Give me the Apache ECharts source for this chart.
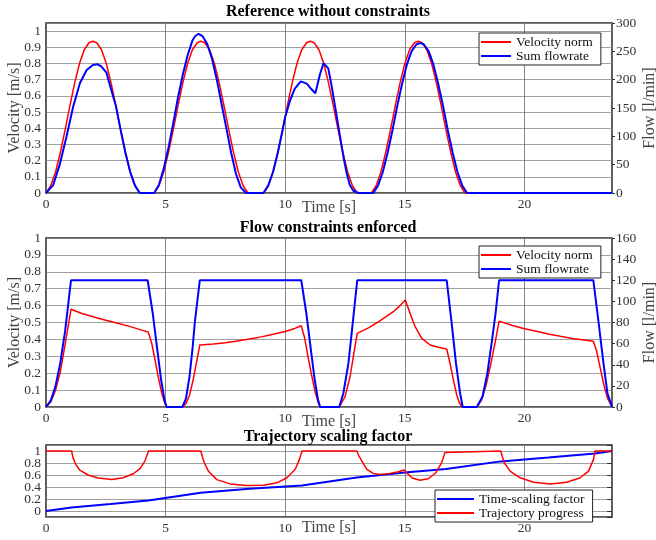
<!DOCTYPE html>
<html>
<head>
<meta charset="utf-8">
<script src="https://cdn.jsdelivr.net/npm/echarts@6/dist/echarts.min.js"></script>
</head>
<body style="margin:0;background:#fff">
<div id="chart" style="width:656px;height:540px"></div>
<script>
// ---- top: reference without constraints ----
var topVelT = [0,0.2,0.4,0.6,0.8,1.0,1.2,1.4,1.6,1.8,1.96,2.12,2.32,2.52,2.72,2.92,3.12,3.32,3.52,3.72,3.92,
    4.52,4.72,4.92,5.12,5.32,5.52,5.72,5.92,6.12,6.32,6.48,6.64,6.84,7.04,7.24,7.44,7.64,7.84,8.04,8.24,8.44,
    9.09,9.29,9.49,9.69,9.89,10.09,10.29,10.49,10.69,10.89,11.05,11.21,11.41,11.61,11.81,12.01,12.21,12.41,12.61,12.81,13.01,
    13.6,13.8,14.0,14.2,14.4,14.6,14.8,15.0,15.2,15.4,15.56,15.72,15.92,16.12,16.32,16.52,16.72,16.92,17.12,17.32,17.52,
    23.66];
var topVel = [0,0.045,0.13,0.25,0.39,0.54,0.68,0.8,0.885,0.928,0.937,0.928,0.885,0.8,0.68,0.54,0.39,0.25,0.13,0.045,0,
    0,0.045,0.13,0.25,0.39,0.54,0.68,0.8,0.885,0.928,0.937,0.928,0.885,0.8,0.68,0.54,0.39,0.25,0.13,0.045,0,
    0,0.045,0.13,0.25,0.39,0.54,0.68,0.8,0.885,0.928,0.937,0.928,0.885,0.8,0.68,0.54,0.39,0.25,0.13,0.045,0,
    0,0.045,0.13,0.25,0.39,0.54,0.68,0.8,0.885,0.928,0.937,0.928,0.885,0.8,0.68,0.54,0.39,0.25,0.13,0.045,0,
    0];
var topFlowT = [0,0.3,0.58,0.86,1.14,1.42,1.7,1.96,2.16,2.32,2.52,2.72,2.92,3.12,3.32,3.52,3.72,3.92,
    4.52,4.72,4.92,5.12,5.32,5.52,5.72,5.92,6.12,6.24,6.38,6.54,6.74,6.94,7.14,7.34,7.54,7.74,7.94,8.14,8.36,
    9.09,9.29,9.49,9.69,9.89,10.0,10.2,10.4,10.65,10.9,11.1,11.26,11.45,11.6,11.68,11.8,11.94,12.1,12.29,12.45,12.57,12.7,12.85,13.06,
    13.68,13.88,14.08,14.28,14.48,14.68,14.88,15.08,15.28,15.48,15.64,15.8,16.0,16.2,16.4,16.6,16.8,17.0,17.2,17.4,17.6,
    23.66];
var topFlow = [0,14,51,100,153,194,217,226,227,223,213,183,154,111,71,37,13,0,
    0,14,43,80,123,169,209,243,269,277,281,277,263,237,200,157,114,71,34,10,0,
    0,13,37,71,111,134,163,184,197,193,183,176,209,229,231,220,189,149,100,60,35,14,4,0,
    0,13,37,71,110,153,192,226,250,262,265,262,250,226,192,153,110,71,37,13,0,
    0];

// ---- middle: flow constraints enforced ----
var midVelT = [0,0.2,0.4,0.6,0.8,1.045,1.5,2.0,2.5,3.0,3.5,4.0,4.27,4.42,4.56,4.69,4.84,4.95,5.04,
    5.7,5.85,6.0,6.15,6.3,6.43,7.0,7.5,8.0,8.5,9.0,9.5,10.0,10.4,10.67,10.81,10.95,11.1,11.25,11.37,11.46,
    12.26,12.5,12.71,12.87,13.01,13.5,13.96,14.52,14.8,15.02,15.22,15.43,15.71,16.06,16.4,16.75,16.89,17.03,17.17,17.28,17.4,
    18.01,18.2,18.4,18.6,18.8,18.94,19.5,20.0,20.5,21.0,21.5,22.0,22.5,22.88,23.02,23.17,23.32,23.48,23.66];
var midVel = [0,0.03,0.1,0.21,0.37,0.578,0.553,0.532,0.513,0.495,0.477,0.455,0.444,0.377,0.278,0.179,0.081,0.03,0,
    0,0.02,0.07,0.16,0.27,0.367,0.373,0.38,0.39,0.402,0.415,0.43,0.447,0.465,0.481,0.41,0.3,0.19,0.09,0.03,0,
    0,0.061,0.179,0.317,0.436,0.47,0.51,0.564,0.6,0.633,0.554,0.475,0.406,0.367,0.353,0.343,0.258,0.16,0.071,0.025,0,
    0,0.04,0.13,0.26,0.4,0.508,0.482,0.463,0.448,0.432,0.418,0.405,0.396,0.389,0.33,0.23,0.13,0.05,0];
var midFlowT = [0,0.2,0.4,0.6,0.8,1.045,4.25,4.46,4.67,4.81,4.95,5.04,
    5.7,5.85,6.0,6.12,6.22,6.43,10.67,10.88,11.09,11.23,11.37,11.46,
    12.26,12.43,12.64,12.82,13.01,16.75,16.96,17.14,17.31,17.42,
    18.01,18.25,18.45,18.65,18.8,18.94,22.88,23.1,23.3,23.47,23.66];
var midFlow = [0,6,20,42,72,120,120,89,51,26,7,0,
    0,8,29,54,80,120,120,89,51,26,7,0,
    0,13,41,79,120,120,79,41,13,0,
    0,10,32,64,90,120,120,80,42,13,0];

// ---- bottom: trajectory scaling factor ----
var botProgT = [0,1.07,2.7,4.28,6.47,8.5,10.7,12.99,14.0,15.0,16.72,19.01,21.0,22.95,23.66];
var botProg = [0,0.058,0.115,0.175,0.305,0.37,0.425,0.56,0.598,0.643,0.7,0.827,0.89,0.96,1.0];
var botScaleT = [0,1.07,1.13,1.24,1.41,1.76,2.18,2.75,3.23,3.65,3.93,4.14,4.24,4.28,
    6.47,6.54,6.61,6.79,7.14,7.7,8.39,9.09,9.65,10.07,10.42,10.6,10.7,
    12.99,13.08,13.2,13.41,13.68,13.96,14.38,14.73,14.97,15.08,15.29,15.63,15.98,16.3,16.54,16.68,16.72,
    19.01,19.08,19.15,19.4,19.82,20.38,21.08,21.77,22.33,22.68,22.89,22.95,23.66];
var botScale = [1,1,0.89,0.78,0.68,0.6,0.55,0.525,0.554,0.621,0.706,0.836,0.95,1,
    1,0.9,0.808,0.664,0.523,0.452,0.423,0.429,0.469,0.554,0.695,0.864,1,
    1,0.92,0.836,0.695,0.627,0.61,0.627,0.655,0.683,0.638,0.554,0.514,0.537,0.638,0.808,0.977,1,
    1,0.9,0.808,0.664,0.554,0.48,0.452,0.48,0.554,0.664,0.864,1,1];

var serif = '"Liberation Serif", "Times New Roman", serif';
var RED = '#ff0000', BLUE = '#0000ff';

function pairs(xs, ys) {
    return xs.map(function (x, i) { return [x, ys[i]]; });
}
function xAx(i, gap) {
    return {
        type: 'value', gridIndex: i, min: 0, max: 23.66, interval: 5,
        name: 'Time [s]', nameLocation: 'middle', nameGap: gap, nameMoveOverlap: false,
        nameTextStyle: {fontFamily: serif, fontSize: 16, color: '#444'},
        axisLine: {show: false}, axisTick: {show: false},
        axisLabel: {fontFamily: serif, fontSize: 13.5, color: '#333', margin: 4,
            formatter: function (v) { return Math.abs(v % 5) < 1e-6 ? String(v) : ''; }},
        splitLine: {lineStyle: {color: '#666', width: 0.8}}
    };
}
function fmt(lo, hi) {
    return function (v) { return (v < lo - 1e-6 || v > hi + 1e-6) ? '' : String(+v.toFixed(1)); };
}
var nameStyle = {fontFamily: serif, fontSize: 16, color: '#444'};
var labStyle = {fontFamily: serif, fontSize: 13.5, color: '#333'};
var hSplit = {lineStyle: {color: '#888', width: 0.8}};

function legendAt(left, top, names, iconW) {
    return {
        orient: 'vertical', left: left, top: top, data: names, icon: 'rect',
        padding: [2, 8, 2, 2], itemGap: 0, itemWidth: iconW, itemHeight: 2,
        borderColor: '#222', borderWidth: 1, backgroundColor: '#fff',
        textStyle: {fontFamily: serif, fontSize: 13.5, color: '#111', lineHeight: 13},
        selectedMode: false
    };
}
function gridAt(top, height) {
    return {left: 46, right: 44, top: top, height: height, show: true, outerBoundsMode: 'none',
        containLabel: false, borderColor: '#262626', borderWidth: 1.5};
}

var chart = echarts.init(document.getElementById('chart'));
chart.setOption({
    animation: false,
    backgroundColor: '#fff',
    title: [
        {text: 'Reference without constraints', left: 'center', top: 4, padding: 0,
            textStyle: {fontFamily: serif, fontSize: 16, fontWeight: 'bold', color: '#000'}},
        {text: 'Flow constraints enforced', left: 'center', top: 220, padding: 0,
            textStyle: {fontFamily: serif, fontSize: 16, fontWeight: 'bold', color: '#000'}},
        {text: 'Trajectory scaling factor', left: 'center', top: 429, padding: 0,
            textStyle: {fontFamily: serif, fontSize: 16, fontWeight: 'bold', color: '#000'}}
    ],
    grid: [gridAt(23, 170), gridAt(238, 169), gridAt(445, 72)],
    xAxis: [xAx(0, 7), xAx(1, 7), xAx(2, 3)],
    yAxis: [
        {type: 'value', gridIndex: 0, min: 0, max: 1.05, interval: 0.1,
            name: 'Velocity [m/s]', nameLocation: 'middle', nameRotate: 90, nameGap: 23, nameMoveOverlap: false, nameTextStyle: nameStyle,
            axisLine: {show: false}, axisTick: {show: false},
            axisLabel: Object.assign({margin: 5, formatter: fmt(0, 1)}, labStyle), splitLine: hSplit},
        {type: 'value', gridIndex: 0, position: 'right', min: 0, max: 300, interval: 50,
            name: 'Flow [l/min]', nameLocation: 'middle', nameRotate: 90, nameGap: 30, nameMoveOverlap: false, nameTextStyle: nameStyle,
            axisLine: {show: false}, axisTick: {show: true, length: 3, lineStyle: {color: '#333'}},
            axisLabel: Object.assign({margin: 4}, labStyle), splitLine: {show: false}},
        {type: 'value', gridIndex: 1, min: 0, max: 1, interval: 0.1,
            name: 'Velocity [m/s]', nameLocation: 'middle', nameRotate: 90, nameGap: 23, nameMoveOverlap: false, nameTextStyle: nameStyle,
            axisLine: {show: false}, axisTick: {show: false},
            axisLabel: Object.assign({margin: 5, formatter: fmt(0, 1)}, labStyle), splitLine: hSplit},
        {type: 'value', gridIndex: 1, position: 'right', min: 0, max: 160, interval: 20,
            name: 'Flow [l/min]', nameLocation: 'middle', nameRotate: 90, nameGap: 30, nameMoveOverlap: false, nameTextStyle: nameStyle,
            axisLine: {show: false}, axisTick: {show: true, length: 3, lineStyle: {color: '#333'}},
            axisLabel: Object.assign({margin: 4}, labStyle), splitLine: {show: false}},
        {type: 'value', gridIndex: 2, min: -0.1, max: 1.1, splitNumber: 6,
            axisLine: {show: false}, axisTick: {show: false},
            axisLabel: Object.assign({margin: 5, formatter: fmt(0, 1)}, labStyle), splitLine: hSplit},
        {type: 'value', gridIndex: 2, position: 'right', min: -0.1, max: 1.1, splitNumber: 6,
            axisLine: {show: false}, axisTick: {show: true, inside: true, length: 5, lineStyle: {color: '#333'}},
            axisLabel: {show: false}, splitLine: {show: false}}
    ],
    legend: [
        legendAt(479, 33, ['Velocity norm', 'Sum flowrate'], 30),
        legendAt(479, 246, ['Velocity norm', 'Sum flowrate'], 30),
        legendAt(435, 490, ['Time-scaling factor', 'Trajectory progress'], 37)
    ],
    series: [
        {name: 'Velocity norm', type: 'line', xAxisIndex: 0, yAxisIndex: 0, symbol: 'none',
            lineStyle: {color: RED, width: 1.5}, itemStyle: {color: RED}, data: pairs(topVelT, topVel)},
        {name: 'Sum flowrate', type: 'line', xAxisIndex: 0, yAxisIndex: 1, symbol: 'none',
            lineStyle: {color: BLUE, width: 2}, itemStyle: {color: BLUE}, data: pairs(topFlowT, topFlow)},
        {name: 'Velocity norm', type: 'line', xAxisIndex: 1, yAxisIndex: 2, symbol: 'none',
            lineStyle: {color: RED, width: 1.5}, itemStyle: {color: RED}, data: pairs(midVelT, midVel)},
        {name: 'Sum flowrate', type: 'line', xAxisIndex: 1, yAxisIndex: 3, symbol: 'none',
            lineStyle: {color: BLUE, width: 2}, itemStyle: {color: BLUE}, data: pairs(midFlowT, midFlow)},
        {name: 'Time-scaling factor', type: 'line', xAxisIndex: 2, yAxisIndex: 4, symbol: 'none',
            lineStyle: {color: BLUE, width: 2}, itemStyle: {color: BLUE}, data: pairs(botProgT, botProg)},
        {name: 'Trajectory progress', type: 'line', xAxisIndex: 2, yAxisIndex: 4, symbol: 'none',
            lineStyle: {color: RED, width: 1.5}, itemStyle: {color: RED}, data: pairs(botScaleT, botScale)}
    ]
});
</script>
</body>
</html>
